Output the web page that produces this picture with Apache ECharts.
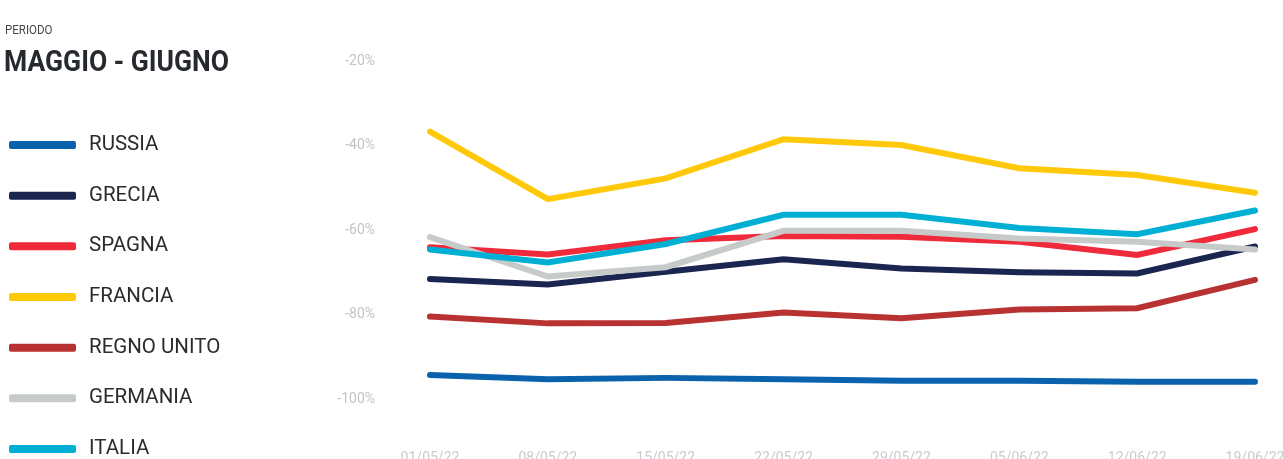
<!DOCTYPE html>
<html>
<head>
<meta charset="utf-8">
<script src="https://cdn.jsdelivr.net/npm/echarts@6/dist/echarts.min.js"></script>
<style>
html,body{margin:0;padding:0;background:#fff;}
#main{width:1283px;height:459px;}
</style>
</head>
<body>
<div id="main"></div>
<script>
const categories = ['01/05/22','08/05/22','15/05/22','22/05/22','29/05/22','05/06/22','12/06/22','19/06/22'];
const seriesNames = ['RUSSIA','GRECIA','SPAGNA','FRANCIA','REGNO UNITO','GERMANIA','ITALIA'];
const russia     = [-94.3, -95.3, -95.0, -95.3, -95.7, -95.7, -95.9, -95.9];
const grecia     = [-71.6, -72.9, -69.9, -66.9, -69.1, -70.0, -70.3, -63.9];
const spagna     = [-64.1, -65.8, -62.4, -61.4, -61.6, -62.8, -65.9, -59.8];
const francia    = [-36.7, -52.7, -47.8, -38.5, -39.9, -45.4, -47.0, -51.2];
const regnoUnito = [-80.5, -82.1, -82.0, -79.5, -80.9, -78.8, -78.5, -71.8];
const germania   = [-61.7, -71.0, -68.8, -60.2, -60.2, -62.0, -62.8, -64.6];
const italia     = [-64.6, -67.7, -63.3, -56.4, -56.4, -59.5, -61.0, -55.4];
const yTicks = [-100, -80, -60, -40, -20];
const subTitle = 'PERIODO';
const mainTitle = 'MAGGIO - GIUGNO';

const allData = [russia, grecia, spagna, francia, regnoUnito, germania, italia];
const colors = ['#0a62ad','#1a2550','#ee2a3b','#ffc90a','#b93232','#c6cac9','#00b0d4'];

const chart = echarts.init(document.getElementById('main'));
chart.setOption({
  animation: false,
  color: colors,
  graphic: [
    {type: 'text', x: 5, y: 30.5, scaleY: 1.1, style: {text: subTitle, font: '11.5px Roboto', fill: '#444', verticalAlign: 'middle', align: 'left'}},
    {type: 'text', x: 4, y: 63.5, scaleY: 1.14, style: {text: mainTitle, font: 'bold 26.5px Roboto', fill: '#262a2e', verticalAlign: 'middle', align: 'left'}}
  ],
  legend: {
    orient: 'vertical',
    left: 9,
    top: 134,
    height: 360,
    padding: 0,
    itemWidth: 67,
    itemHeight: 8,
    itemGap: 28.67,
    icon: 'roundRect',
    data: seriesNames,
    textStyle: {fontFamily: 'Roboto', fontSize: 20.5, color: '#2b2b2b', lineHeight: 22, padding: [0,0,0,8]}
  },
  grid: {left: 430, right: 28, top: 61, bottom: 60, containLabel: false, outerBoundsMode: 'none'},
  xAxis: {
    type: 'category',
    data: categories,
    boundaryGap: false,
    axisLine: {show: false},
    axisTick: {show: false},
    axisLabel: {margin: 52, color: '#c8cccc', fontFamily: 'Roboto', fontSize: 14}
  },
  yAxis: {
    type: 'value',
    min: yTicks[0],
    max: yTicks[yTicks.length-1],
    interval: 20,
    splitLine: {show: false},
    axisLine: {show: false},
    axisTick: {show: false},
    axisLabel: {margin: 55, color: '#c0c4c4', fontFamily: 'Roboto', fontSize: 14, formatter: v => v + '%'}
  },
  series: seriesNames.map((n, i) => ({
    name: n,
    type: 'line',
    data: allData[i],
    showSymbol: false,
    symbol: 'none',
    lineStyle: {width: 6, cap: 'round', join: 'miter', color: colors[i]},
    itemStyle: {color: colors[i]}
  }))
});
</script>
</body>
</html>
